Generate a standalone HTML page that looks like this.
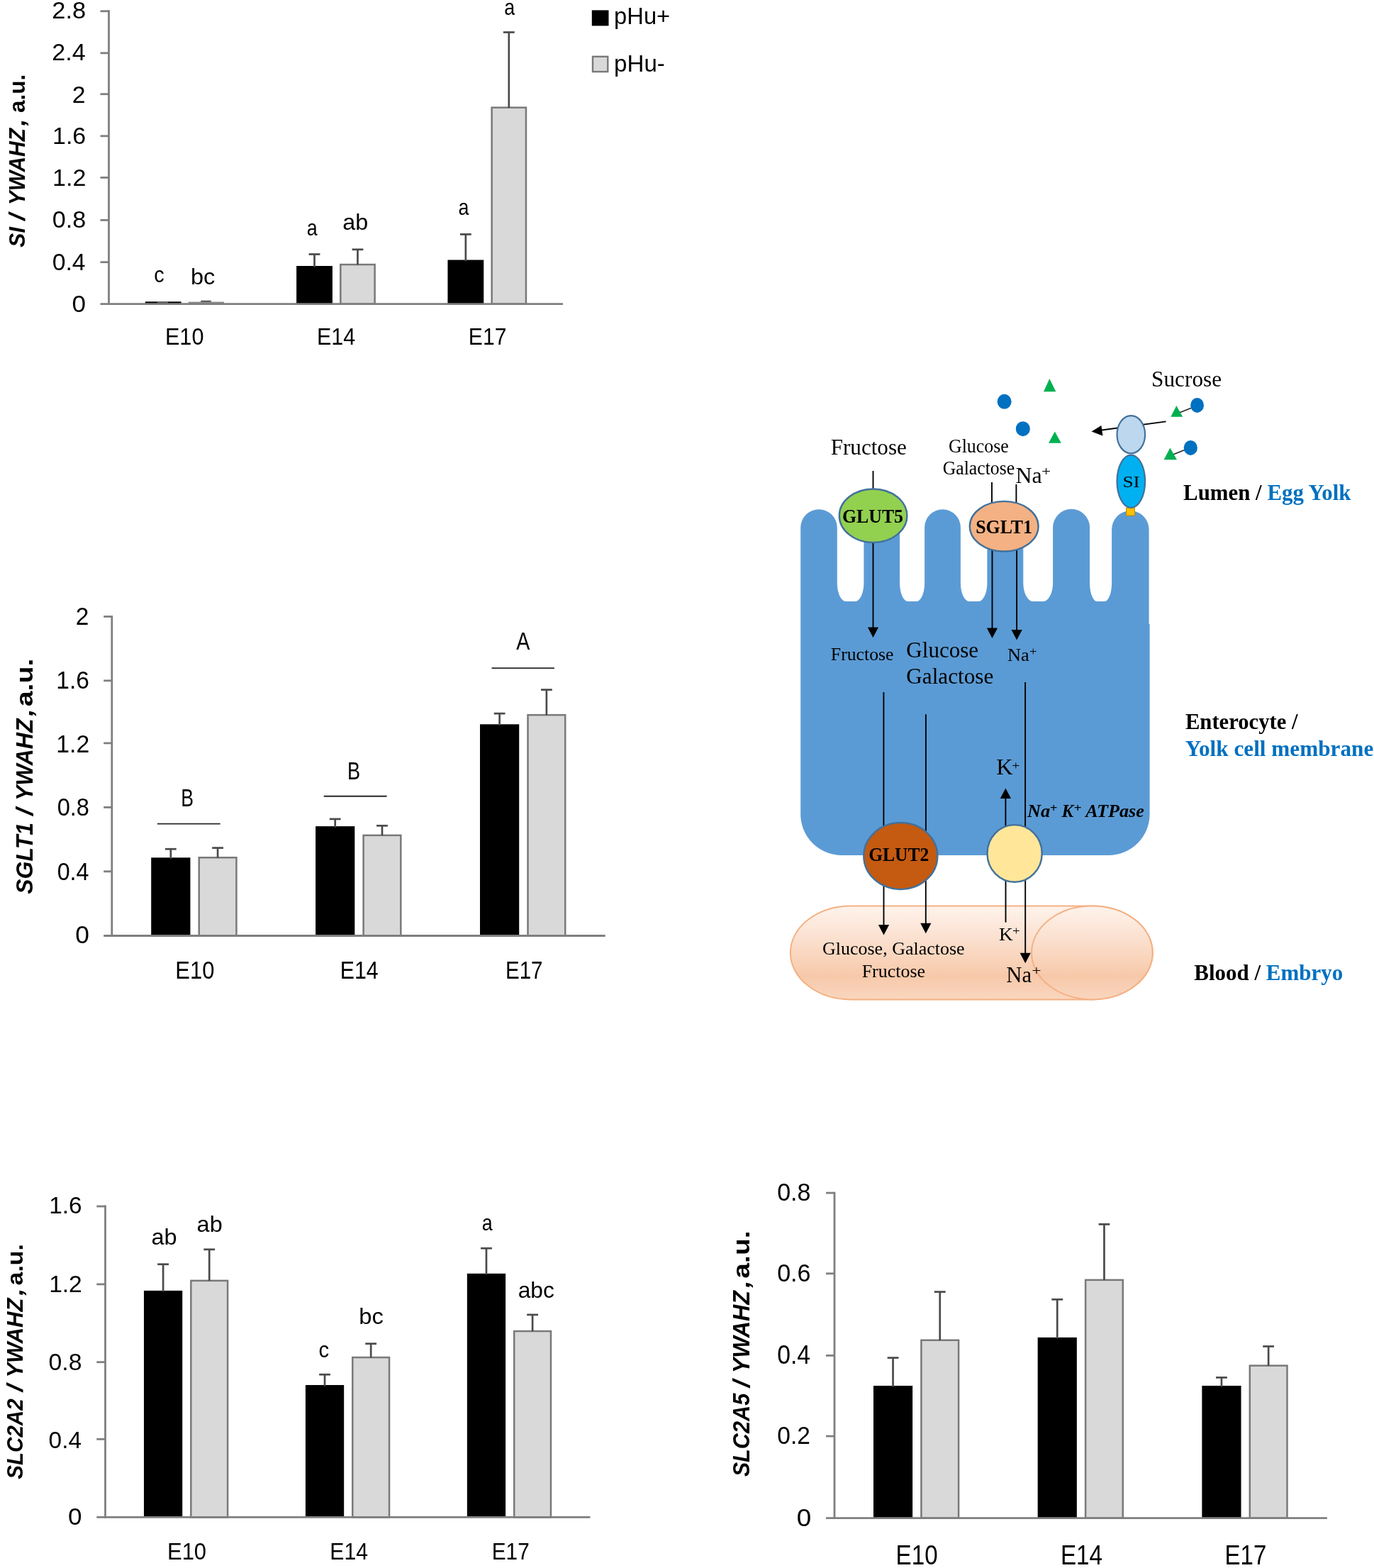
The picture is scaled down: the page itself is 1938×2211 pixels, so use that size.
<!DOCTYPE html>
<html lang="en"><head><meta charset="utf-8"><title>Figure</title>
<style>
html,body{margin:0;padding:0;background:#fff}
body{width:1938px;height:2211px;overflow:hidden}
svg{display:block}
text{white-space:pre}
.sa{font-family:"Liberation Sans",sans-serif;font-weight:normal;font-style:normal}
.sab{font-family:"Liberation Sans",sans-serif;font-weight:bold;font-style:normal}
.sabi{font-family:"Liberation Sans",sans-serif;font-weight:bold;font-style:italic}
.se{font-family:"Liberation Serif",serif;font-weight:normal;font-style:normal}
.seb{font-family:"Liberation Serif",serif;font-weight:bold;font-style:normal}
.sebi{font-family:"Liberation Serif",serif;font-weight:bold;font-style:italic}
</style></head><body>
<svg width="1938" height="2211" viewBox="0 0 1938 2211">
<defs>
<linearGradient id="vg" x1="0" y1="0" x2="0" y2="1">
<stop offset="0" stop-color="#fef3ec"/><stop offset="0.35" stop-color="#fbe0cf"/><stop offset="0.75" stop-color="#f7c9aa"/><stop offset="1" stop-color="#f9d6bf"/>
</linearGradient>
</defs>
<rect width="1938" height="2211" fill="#fff"/>
<g id="chart-si">
<rect x="204.79" y="425.30" width="50.79" height="3.40" fill="#000"/>
<line x1="221.80" y1="426.40" x2="237.00" y2="426.40" stroke="#6b6b6b" stroke-width="2"/>
<rect x="265.75" y="425.60" width="50.19" height="3.10" fill="#8a8a8a"/>
<line x1="283.20" y1="424.80" x2="297.80" y2="424.80" stroke="#5a5a5a" stroke-width="2.2"/>
<rect x="418.13" y="375.00" width="50.79" height="53.70" fill="#000"/>
<line x1="443.52" y1="358.50" x2="443.52" y2="376.50" stroke="#4a4a4a" stroke-width="2.7"/>
<line x1="435.62" y1="358.50" x2="451.42" y2="358.50" stroke="#4a4a4a" stroke-width="2.7"/>
<rect x="480.33" y="373.05" width="48.29" height="55.65" fill="#d9d9d9" stroke="#797979" stroke-width="2.5"/>
<line x1="504.48" y1="351.80" x2="504.48" y2="373.30" stroke="#4a4a4a" stroke-width="2.7"/>
<line x1="496.58" y1="351.80" x2="512.38" y2="351.80" stroke="#4a4a4a" stroke-width="2.7"/>
<rect x="631.46" y="366.50" width="50.79" height="62.20" fill="#000"/>
<line x1="656.86" y1="330.40" x2="656.86" y2="368.00" stroke="#4a4a4a" stroke-width="2.7"/>
<line x1="648.96" y1="330.40" x2="664.76" y2="330.40" stroke="#4a4a4a" stroke-width="2.7"/>
<rect x="693.66" y="151.65" width="48.29" height="277.05" fill="#d9d9d9" stroke="#797979" stroke-width="2.5"/>
<line x1="717.81" y1="45.50" x2="717.81" y2="151.90" stroke="#4a4a4a" stroke-width="2.7"/>
<line x1="709.91" y1="45.50" x2="725.71" y2="45.50" stroke="#4a4a4a" stroke-width="2.7"/>
<line x1="153.50" y1="14.36" x2="153.50" y2="430.10" stroke="#7f7f7f" stroke-width="2.8"/>
<line x1="141.50" y1="428.70" x2="794.00" y2="428.70" stroke="#7f7f7f" stroke-width="2.8"/>
<text class="sa" font-size="33.5" transform="translate(101.53,439.80) scale(1.0490,1)">0</text>
<line x1="141.50" y1="369.65" x2="153.50" y2="369.65" stroke="#7f7f7f" stroke-width="2.8"/>
<text class="sa" font-size="33.5" transform="translate(73.68,380.50) scale(1.0095,1)">0.4</text>
<line x1="141.50" y1="310.40" x2="153.50" y2="310.40" stroke="#7f7f7f" stroke-width="2.8"/>
<text class="sa" font-size="33.5" transform="translate(73.66,321.30) scale(1.0204,1)">0.8</text>
<line x1="141.50" y1="250.40" x2="153.50" y2="250.40" stroke="#7f7f7f" stroke-width="2.8"/>
<text class="sa" font-size="33.5" transform="translate(74.00,262.30) scale(1.0181,1)">1.2</text>
<line x1="141.50" y1="191.80" x2="153.50" y2="191.80" stroke="#7f7f7f" stroke-width="2.8"/>
<text class="sa" font-size="33.5" transform="translate(74.02,203.40) scale(1.0130,1)">1.6</text>
<line x1="141.50" y1="132.70" x2="153.50" y2="132.70" stroke="#7f7f7f" stroke-width="2.8"/>
<text class="sa" font-size="33.5" transform="translate(101.70,144.50) scale(1.0090,1)">2</text>
<line x1="141.50" y1="74.80" x2="153.50" y2="74.80" stroke="#7f7f7f" stroke-width="2.8"/>
<text class="sa" font-size="33.5" transform="translate(73.28,85.30) scale(1.0181,1)">2.4</text>
<line x1="141.50" y1="15.76" x2="153.50" y2="15.76" stroke="#7f7f7f" stroke-width="2.8"/>
<text class="sa" font-size="33.5" transform="translate(73.27,25.95) scale(1.0292,1)">2.8</text>
<text class="sa" font-size="33.5" transform="translate(232.88,486.30) scale(0.9163,1)">E10</text>
<text class="sa" font-size="33.5" transform="translate(446.90,486.30) scale(0.9109,1)">E14</text>
<text class="sa" font-size="33.5" transform="translate(660.83,486.30) scale(0.8990,1)">E17</text>
<text class="sa" font-size="32" transform="translate(217.18,397.70) scale(0.8988,1)">c</text>
<text class="sa" font-size="32" transform="translate(268.90,401.20) scale(1.0165,1)">bc</text>
<text class="sa" font-size="32" transform="translate(432.86,332.20) scale(0.8395,1)">a</text>
<text class="sa" font-size="32" transform="translate(483.23,324.20) scale(1.0094,1)">ab</text>
<text class="sa" font-size="32" transform="translate(646.46,303.30) scale(0.8395,1)">a</text>
<text class="sa" font-size="32" transform="translate(711.26,20.50) scale(0.8395,1)">a</text>
<rect x="834.80" y="14.40" width="23.70" height="22.00" fill="#000"/>
<rect x="836.00" y="79.80" width="21.30" height="21.30" fill="#d9d9d9" stroke="#797979" stroke-width="2.4"/>
<text class="sa" font-size="32.6" transform="translate(866.09,34.40) scale(1.0035,1)">pHu+</text>
<text class="sa" font-size="32.6" transform="translate(866.06,100.50) scale(1.0162,1)">pHu-</text>
<text class="sabi" font-size="31.8" transform="translate(35.40,348.67) rotate(-90) scale(0.9503,1)">SI</text>
<text class="sabi" font-size="31.8" transform="translate(35.40,311.07) rotate(-90) scale(1.1241,1)">/</text>
<text class="sabi" font-size="31.8" transform="translate(35.40,289.22) rotate(-90) scale(0.9430,1)">YWAHZ</text>
<text class="sabi" font-size="31.8" transform="translate(35.40,177.45) rotate(-90) scale(1.1199,1)">,</text>
<text class="sab" font-size="31.8" transform="translate(35.40,158.92) rotate(-90) scale(0.9891,1)">a.u.</text>
</g>
<g id="chart-sglt1">
<rect x="213.21" y="1209.30" width="55.21" height="110.20" fill="#000"/>
<line x1="240.82" y1="1197.20" x2="240.82" y2="1210.80" stroke="#4a4a4a" stroke-width="2.7"/>
<line x1="232.92" y1="1197.20" x2="248.72" y2="1197.20" stroke="#4a4a4a" stroke-width="2.7"/>
<rect x="280.72" y="1209.25" width="52.71" height="110.25" fill="#d9d9d9" stroke="#797979" stroke-width="2.5"/>
<line x1="307.08" y1="1195.60" x2="307.08" y2="1209.50" stroke="#4a4a4a" stroke-width="2.7"/>
<line x1="299.18" y1="1195.60" x2="314.98" y2="1195.60" stroke="#4a4a4a" stroke-width="2.7"/>
<rect x="445.11" y="1165.10" width="55.21" height="154.40" fill="#000"/>
<line x1="472.72" y1="1154.90" x2="472.72" y2="1166.60" stroke="#4a4a4a" stroke-width="2.7"/>
<line x1="464.82" y1="1154.90" x2="480.62" y2="1154.90" stroke="#4a4a4a" stroke-width="2.7"/>
<rect x="512.62" y="1177.85" width="52.71" height="141.65" fill="#d9d9d9" stroke="#797979" stroke-width="2.5"/>
<line x1="538.98" y1="1164.30" x2="538.98" y2="1178.10" stroke="#4a4a4a" stroke-width="2.7"/>
<line x1="531.08" y1="1164.30" x2="546.88" y2="1164.30" stroke="#4a4a4a" stroke-width="2.7"/>
<rect x="677.01" y="1021.30" width="55.21" height="298.20" fill="#000"/>
<line x1="704.62" y1="1006.10" x2="704.62" y2="1022.80" stroke="#4a4a4a" stroke-width="2.7"/>
<line x1="696.72" y1="1006.10" x2="712.52" y2="1006.10" stroke="#4a4a4a" stroke-width="2.7"/>
<rect x="744.52" y="1008.15" width="52.71" height="311.35" fill="#d9d9d9" stroke="#797979" stroke-width="2.5"/>
<line x1="770.88" y1="972.60" x2="770.88" y2="1008.40" stroke="#4a4a4a" stroke-width="2.7"/>
<line x1="762.98" y1="972.60" x2="778.78" y2="972.60" stroke="#4a4a4a" stroke-width="2.7"/>
<line x1="157.80" y1="868.00" x2="157.80" y2="1320.90" stroke="#7f7f7f" stroke-width="2.8"/>
<line x1="146.20" y1="1319.50" x2="853.70" y2="1319.50" stroke="#7f7f7f" stroke-width="2.8"/>
<text class="sa" font-size="35" transform="translate(106.22,1330.40) scale(1.0101,1)">0</text>
<line x1="146.20" y1="1228.80" x2="157.80" y2="1228.80" stroke="#7f7f7f" stroke-width="2.8"/>
<text class="sa" font-size="35" transform="translate(80.64,1240.60) scale(0.9208,1)">0.4</text>
<line x1="146.20" y1="1138.40" x2="157.80" y2="1138.40" stroke="#7f7f7f" stroke-width="2.8"/>
<text class="sa" font-size="35" transform="translate(80.63,1150.40) scale(0.9308,1)">0.8</text>
<line x1="146.20" y1="1047.90" x2="157.80" y2="1047.90" stroke="#7f7f7f" stroke-width="2.8"/>
<text class="sa" font-size="35" transform="translate(79.33,1061.40) scale(0.9631,1)">1.2</text>
<line x1="146.20" y1="959.80" x2="157.80" y2="959.80" stroke="#7f7f7f" stroke-width="2.8"/>
<text class="sa" font-size="35" transform="translate(79.35,971.40) scale(0.9583,1)">1.6</text>
<line x1="146.20" y1="869.40" x2="157.80" y2="869.40" stroke="#7f7f7f" stroke-width="2.8"/>
<text class="sa" font-size="35" transform="translate(106.72,881.00) scale(0.9532,1)">2</text>
<text class="sa" font-size="35" transform="translate(247.36,1380.40) scale(0.8839,1)">E10</text>
<text class="sa" font-size="35" transform="translate(479.71,1380.40) scale(0.8667,1)">E14</text>
<text class="sa" font-size="35" transform="translate(712.98,1380.40) scale(0.8431,1)">E17</text>
<text class="sa" font-size="35" transform="translate(255.21,1137.30) scale(0.7623,1)">B</text>
<line x1="221.80" y1="1161.60" x2="310.70" y2="1161.60" stroke="#262626" stroke-width="1.9"/>
<text class="sa" font-size="35" transform="translate(489.98,1098.60) scale(0.7730,1)">B</text>
<line x1="456.70" y1="1122.80" x2="545.60" y2="1122.80" stroke="#262626" stroke-width="1.9"/>
<text class="sa" font-size="35" transform="translate(728.14,916.00) scale(0.8187,1)">A</text>
<line x1="693.50" y1="942.10" x2="781.90" y2="942.10" stroke="#262626" stroke-width="1.9"/>
<text class="sabi" font-size="33" transform="translate(45.50,1260.79) rotate(-90) scale(0.9712,1)">SGLT1</text>
<text class="sabi" font-size="33" transform="translate(45.50,1150.02) rotate(-90) scale(1.1283,1)">/</text>
<text class="sabi" font-size="33" transform="translate(45.50,1128.99) rotate(-90) scale(0.9692,1)">YWAHZ</text>
<text class="sabi" font-size="33" transform="translate(45.50,1009.64) rotate(-90) scale(1.1092,1)">,</text>
<text class="sab" font-size="33" transform="translate(45.50,996.25) rotate(-90) scale(1.1919,1)">a.u.</text>
</g>
<g id="chart-slc2a2">
<rect x="202.97" y="1819.90" width="54.27" height="319.55" fill="#000"/>
<line x1="230.10" y1="1782.70" x2="230.10" y2="1821.40" stroke="#4a4a4a" stroke-width="2.7"/>
<line x1="222.20" y1="1782.70" x2="238.00" y2="1782.70" stroke="#4a4a4a" stroke-width="2.7"/>
<rect x="269.34" y="1805.85" width="51.77" height="333.60" fill="#d9d9d9" stroke="#797979" stroke-width="2.5"/>
<line x1="295.23" y1="1761.80" x2="295.23" y2="1806.10" stroke="#4a4a4a" stroke-width="2.7"/>
<line x1="287.33" y1="1761.80" x2="303.13" y2="1761.80" stroke="#4a4a4a" stroke-width="2.7"/>
<rect x="430.90" y="1953.00" width="54.27" height="186.45" fill="#000"/>
<line x1="458.04" y1="1938.20" x2="458.04" y2="1954.50" stroke="#4a4a4a" stroke-width="2.7"/>
<line x1="450.14" y1="1938.20" x2="465.94" y2="1938.20" stroke="#4a4a4a" stroke-width="2.7"/>
<rect x="497.28" y="1914.05" width="51.77" height="225.40" fill="#d9d9d9" stroke="#797979" stroke-width="2.5"/>
<line x1="523.16" y1="1894.70" x2="523.16" y2="1914.30" stroke="#4a4a4a" stroke-width="2.7"/>
<line x1="515.26" y1="1894.70" x2="531.06" y2="1894.70" stroke="#4a4a4a" stroke-width="2.7"/>
<rect x="658.84" y="1795.80" width="54.27" height="343.65" fill="#000"/>
<line x1="685.97" y1="1760.20" x2="685.97" y2="1797.30" stroke="#4a4a4a" stroke-width="2.7"/>
<line x1="678.07" y1="1760.20" x2="693.87" y2="1760.20" stroke="#4a4a4a" stroke-width="2.7"/>
<rect x="725.21" y="1877.05" width="51.77" height="262.40" fill="#d9d9d9" stroke="#797979" stroke-width="2.5"/>
<line x1="751.10" y1="1853.90" x2="751.10" y2="1877.30" stroke="#4a4a4a" stroke-width="2.7"/>
<line x1="743.20" y1="1853.90" x2="759.00" y2="1853.90" stroke="#4a4a4a" stroke-width="2.7"/>
<line x1="148.50" y1="1699.60" x2="148.50" y2="2140.85" stroke="#7f7f7f" stroke-width="2.8"/>
<line x1="136.30" y1="2139.45" x2="832.50" y2="2139.45" stroke="#7f7f7f" stroke-width="2.8"/>
<text class="sa" font-size="33.5" transform="translate(95.93,2150.20) scale(1.0490,1)">0</text>
<line x1="136.30" y1="2029.34" x2="148.50" y2="2029.34" stroke="#7f7f7f" stroke-width="2.8"/>
<text class="sa" font-size="33.5" transform="translate(68.59,2041.90) scale(0.9982,1)">0.4</text>
<line x1="136.30" y1="1920.70" x2="148.50" y2="1920.70" stroke="#7f7f7f" stroke-width="2.8"/>
<text class="sa" font-size="33.5" transform="translate(68.58,1931.80) scale(1.0090,1)">0.8</text>
<line x1="136.30" y1="1810.90" x2="148.50" y2="1810.90" stroke="#7f7f7f" stroke-width="2.8"/>
<text class="sa" font-size="33.5" transform="translate(69.14,1821.80) scale(1.0015,1)">1.2</text>
<line x1="136.30" y1="1701.00" x2="148.50" y2="1701.00" stroke="#7f7f7f" stroke-width="2.8"/>
<text class="sa" font-size="33.5" transform="translate(69.16,1710.90) scale(0.9965,1)">1.6</text>
<text class="sa" font-size="33.5" transform="translate(235.96,2199.20) scale(0.9253,1)">E10</text>
<text class="sa" font-size="33.5" transform="translate(465.32,2199.20) scale(0.9020,1)">E14</text>
<text class="sa" font-size="33.5" transform="translate(693.76,2199.20) scale(0.8881,1)">E17</text>
<text class="sa" font-size="32" transform="translate(213.42,1754.70) scale(1.0154,1)">ab</text>
<text class="sa" font-size="32" transform="translate(277.62,1737.30) scale(1.0154,1)">ab</text>
<text class="sa" font-size="32" transform="translate(449.56,1913.50) scale(0.9133,1)">c</text>
<text class="sa" font-size="32" transform="translate(506.29,1866.70) scale(1.0229,1)">bc</text>
<text class="sa" font-size="32" transform="translate(679.86,1735.40) scale(0.8395,1)">a</text>
<text class="sa" font-size="32" transform="translate(730.65,1830.00) scale(0.9921,1)">abc</text>
<text class="sabi" font-size="31.8" transform="translate(31.50,2085.76) rotate(-90) scale(0.9305,1)">SLC2A2</text>
<text class="sabi" font-size="31.8" transform="translate(31.50,1962.42) rotate(-90) scale(1.1709,1)">/</text>
<text class="sabi" font-size="31.8" transform="translate(31.50,1942.61) rotate(-90) scale(0.9766,1)">YWAHZ</text>
<text class="sabi" font-size="31.8" transform="translate(31.50,1826.64) rotate(-90) scale(1.1510,1)">,</text>
<text class="sab" font-size="31.8" transform="translate(31.50,1812.39) rotate(-90) scale(1.0646,1)">a.u.</text>
</g>
<g id="chart-slc2a5">
<rect x="1231.97" y="1954.00" width="55.17" height="186.70" fill="#000"/>
<line x1="1259.55" y1="1914.60" x2="1259.55" y2="1955.50" stroke="#4a4a4a" stroke-width="2.7"/>
<line x1="1251.65" y1="1914.60" x2="1267.45" y2="1914.60" stroke="#4a4a4a" stroke-width="2.7"/>
<rect x="1299.42" y="1889.75" width="52.67" height="250.95" fill="#d9d9d9" stroke="#797979" stroke-width="2.5"/>
<line x1="1325.75" y1="1821.60" x2="1325.75" y2="1890.00" stroke="#4a4a4a" stroke-width="2.7"/>
<line x1="1317.85" y1="1821.60" x2="1333.65" y2="1821.60" stroke="#4a4a4a" stroke-width="2.7"/>
<rect x="1463.67" y="1885.90" width="55.17" height="254.80" fill="#000"/>
<line x1="1491.25" y1="1832.30" x2="1491.25" y2="1887.40" stroke="#4a4a4a" stroke-width="2.7"/>
<line x1="1483.35" y1="1832.30" x2="1499.15" y2="1832.30" stroke="#4a4a4a" stroke-width="2.7"/>
<rect x="1531.12" y="1804.85" width="52.67" height="335.85" fill="#d9d9d9" stroke="#797979" stroke-width="2.5"/>
<line x1="1557.45" y1="1726.30" x2="1557.45" y2="1805.10" stroke="#4a4a4a" stroke-width="2.7"/>
<line x1="1549.55" y1="1726.30" x2="1565.35" y2="1726.30" stroke="#4a4a4a" stroke-width="2.7"/>
<rect x="1695.37" y="1954.00" width="55.17" height="186.70" fill="#000"/>
<line x1="1722.95" y1="1942.40" x2="1722.95" y2="1955.50" stroke="#4a4a4a" stroke-width="2.7"/>
<line x1="1715.05" y1="1942.40" x2="1730.85" y2="1942.40" stroke="#4a4a4a" stroke-width="2.7"/>
<rect x="1762.82" y="1925.65" width="52.67" height="215.05" fill="#d9d9d9" stroke="#797979" stroke-width="2.5"/>
<line x1="1789.15" y1="1898.50" x2="1789.15" y2="1925.90" stroke="#4a4a4a" stroke-width="2.7"/>
<line x1="1781.25" y1="1898.50" x2="1797.05" y2="1898.50" stroke="#4a4a4a" stroke-width="2.7"/>
<line x1="1177.00" y1="1680.70" x2="1177.00" y2="2142.10" stroke="#7f7f7f" stroke-width="2.8"/>
<line x1="1165.00" y1="2140.70" x2="1871.90" y2="2140.70" stroke="#7f7f7f" stroke-width="2.8"/>
<text class="sa" font-size="36" transform="translate(1123.66,2152.00) scale(1.0227,1)">0</text>
<line x1="1165.00" y1="2025.10" x2="1177.00" y2="2025.10" stroke="#7f7f7f" stroke-width="2.8"/>
<text class="sa" font-size="36" transform="translate(1096.29,2036.00) scale(0.9289,1)">0.2</text>
<line x1="1165.00" y1="1911.40" x2="1177.00" y2="1911.40" stroke="#7f7f7f" stroke-width="2.8"/>
<text class="sa" font-size="36" transform="translate(1096.18,1923.00) scale(0.9351,1)">0.4</text>
<line x1="1165.00" y1="1795.80" x2="1177.00" y2="1795.80" stroke="#7f7f7f" stroke-width="2.8"/>
<text class="sa" font-size="36" transform="translate(1096.17,1807.20) scale(0.9456,1)">0.6</text>
<line x1="1165.00" y1="1682.10" x2="1177.00" y2="1682.10" stroke="#7f7f7f" stroke-width="2.8"/>
<text class="sa" font-size="36" transform="translate(1096.17,1692.90) scale(0.9453,1)">0.8</text>
<text class="sa" font-size="38" transform="translate(1263.58,2206.00) scale(0.8728,1)">E10</text>
<text class="sa" font-size="38" transform="translate(1495.88,2206.00) scale(0.8740,1)">E14</text>
<text class="sa" font-size="38" transform="translate(1727.59,2206.00) scale(0.8692,1)">E17</text>
<text class="sabi" font-size="33" transform="translate(1057.40,2082.37) rotate(-90) scale(0.9295,1)">SLC2A5</text>
<text class="sabi" font-size="33" transform="translate(1057.40,1956.52) rotate(-90) scale(1.1283,1)">/</text>
<text class="sabi" font-size="33" transform="translate(1057.40,1936.30) rotate(-90) scale(0.9760,1)">YWAHZ</text>
<text class="sabi" font-size="33" transform="translate(1057.40,1815.84) rotate(-90) scale(1.1092,1)">,</text>
<text class="sab" font-size="33" transform="translate(1057.40,1802.64) rotate(-90) scale(1.1826,1)">a.u.</text>
</g>
<g id="diagram">
<path d="M1129.2,1148.0 L1129.2,744.1 A25.80,25.80 0 0 1 1180.8,744.1 L1180.8,822.6 A12.78,25.50 0 0 0 1193.6,848.1 L1205.6,848.1 A12.78,25.50 0 0 0 1218.4,822.6 L1218.4,743.6 A25.35,25.35 0 0 1 1269.1,743.6 L1269.1,822.6 A11.90,25.50 0 0 0 1281.0,848.1 L1292.2,848.1 A11.90,25.50 0 0 0 1304.1,822.6 L1304.1,743.7 A25.40,25.40 0 0 1 1354.9,743.7 L1354.9,822.6 A12.75,25.50 0 0 0 1367.7,848.1 L1379.7,848.1 A12.75,25.50 0 0 0 1392.4,822.6 L1392.4,743.7 A25.45,25.45 0 0 1 1443.3,743.7 L1443.3,822.6 A14.21,25.50 0 0 0 1457.5,848.1 L1470.9,848.1 A14.21,25.50 0 0 0 1485.1,822.6 L1485.1,743.8 A26.00,26.00 0 0 1 1537.1,743.8 L1537.1,822.6 A10.54,25.50 0 0 0 1547.6,848.1 L1557.6,848.1 A10.54,25.50 0 0 0 1568.1,822.6 L1568.1,746.6 A26.25,26.25 0 0 1 1620.6,746.6 L1620.6,880 L1621.6,880 L1621.6,1148.0 A58,58 0 0 1 1563.6,1206.0 L1187.2,1206.0 A58,58 0 0 1 1129.2,1148.0 Z" fill="#5b9bd5"/>
<path d="M1200.2,1277.4 L1540.4,1277.4 A85.4,66 0 0 1 1540.4,1409.4 L1200.2,1409.4 A85.4,66 0 0 1 1200.2,1277.4 Z" fill="url(#vg)" stroke="#f4b183" stroke-width="2"/>
<ellipse cx="1540.4" cy="1343.4" rx="85.4" ry="66" fill="url(#vg)" stroke="#f4b183" stroke-width="2"/>
<line x1="1231.50" y1="664.00" x2="1231.50" y2="690.00" stroke="#000" stroke-width="1.9"/>
<line x1="1399.00" y1="679.90" x2="1399.00" y2="709.00" stroke="#000" stroke-width="1.9"/>
<line x1="1433.40" y1="683.00" x2="1433.40" y2="709.00" stroke="#000" stroke-width="1.9"/>
<line x1="1231.50" y1="765.00" x2="1231.50" y2="885.50" stroke="#000" stroke-width="1.9"/>
<polygon points="1223.90,884.50 1239.10,884.50 1231.50,899.00" fill="#000"/>
<line x1="1399.50" y1="776.00" x2="1399.50" y2="886.50" stroke="#000" stroke-width="1.9"/>
<polygon points="1391.90,885.50 1407.10,885.50 1399.50,900.00" fill="#000"/>
<line x1="1434.10" y1="776.00" x2="1434.10" y2="888.90" stroke="#000" stroke-width="1.9"/>
<polygon points="1426.50,887.90 1441.70,887.90 1434.10,902.40" fill="#000"/>
<line x1="1246.40" y1="976.10" x2="1246.40" y2="1170.00" stroke="#000" stroke-width="1.9"/>
<line x1="1305.90" y1="1007.30" x2="1305.90" y2="1180.00" stroke="#000" stroke-width="1.9"/>
<line x1="1446.10" y1="962.00" x2="1446.10" y2="1170.00" stroke="#000" stroke-width="1.9"/>
<line x1="1246.50" y1="1245.00" x2="1246.50" y2="1304.90" stroke="#000" stroke-width="1.9"/>
<polygon points="1238.90,1303.90 1254.10,1303.90 1246.50,1318.40" fill="#000"/>
<line x1="1305.80" y1="1240.00" x2="1305.80" y2="1302.80" stroke="#000" stroke-width="1.9"/>
<polygon points="1298.20,1301.80 1313.40,1301.80 1305.80,1316.30" fill="#000"/>
<line x1="1418.40" y1="1166.00" x2="1418.40" y2="1125.10" stroke="#000" stroke-width="1.9"/>
<polygon points="1410.80,1126.10 1426.00,1126.10 1418.40,1111.60" fill="#000"/>
<line x1="1418.50" y1="1240.00" x2="1418.50" y2="1300.60" stroke="#000" stroke-width="1.9"/>
<line x1="1446.20" y1="1240.00" x2="1446.20" y2="1344.80" stroke="#000" stroke-width="1.9"/>
<polygon points="1438.60,1343.80 1453.80,1343.80 1446.20,1358.30" fill="#000"/>
<line x1="1644.60" y1="594.40" x2="1552.00" y2="606.80" stroke="#000" stroke-width="1.9"/>
<polygon points="1539.60,608.40 1553.40,600.00 1555.40,614.40" fill="#000"/>
<ellipse cx="1231.60" cy="727.20" rx="47.80" ry="37.70" fill="#92d050" stroke="#41719c" stroke-width="2.4"/>
<ellipse cx="1416.20" cy="742.20" rx="48.40" ry="35.30" fill="#f4b183" stroke="#41719c" stroke-width="2.4"/>
<ellipse cx="1270.30" cy="1207.00" rx="52.00" ry="47.00" fill="#c55a11" stroke="#41719c" stroke-width="2.4"/>
<ellipse cx="1431.10" cy="1203.40" rx="38.60" ry="40.30" fill="#ffe699" stroke="#41719c" stroke-width="2.4"/>
<rect x="1588.60" y="716.20" width="11.80" height="10.80" fill="#ffc000" stroke="#bf9000" stroke-width="1.2"/>
<ellipse cx="1595.30" cy="678.80" rx="19.80" ry="37.10" fill="#00b0f0" stroke="#41719c" stroke-width="2.2"/>
<ellipse cx="1595.30" cy="612.70" rx="19.80" ry="26.60" fill="#bdd7ee" stroke="#41719c" stroke-width="2.2"/>
<ellipse cx="1416.60" cy="566.30" rx="10.00" ry="10.50" fill="#0070c0"/>
<ellipse cx="1442.80" cy="604.70" rx="10.00" ry="10.50" fill="#0070c0"/>
<polygon points="1480.30,534.10 1472.00,552.20 1489.30,552.20" fill="#00b050"/>
<polygon points="1487.80,608.40 1479.00,624.80 1496.80,624.80" fill="#00b050"/>
<line x1="1662.00" y1="582.50" x2="1681.00" y2="575.00" stroke="#262626" stroke-width="1.5"/>
<polygon points="1659.30,572.10 1651.40,587.80 1668.20,587.80" fill="#00b050"/>
<ellipse cx="1688.60" cy="571.40" rx="9.40" ry="10.50" fill="#0070c0"/>
<line x1="1652.00" y1="642.00" x2="1672.00" y2="634.00" stroke="#262626" stroke-width="1.5"/>
<polygon points="1650.40,631.40 1641.60,648.30 1660.00,648.30" fill="#00b050"/>
<ellipse cx="1679.30" cy="631.40" rx="9.60" ry="10.50" fill="#0070c0"/>
<text class="se" font-size="32" transform="translate(1171.70,641.30) scale(0.9725,1)">Fructose</text>
<text class="se" font-size="27" transform="translate(1337.94,637.70) scale(0.9603,1)">Glucose</text>
<text class="se" font-size="27" transform="translate(1329.75,668.90) scale(0.9521,1)">Galactose</text>
<text class="se" font-size="31" transform="translate(1432.48,680.60) scale(1.0307,1)">Na</text>
<text class="se" font-size="19.6" transform="translate(1469.04,670.61) scale(1.1841,1)">+</text>
<text class="se" font-size="31" transform="translate(1624.11,544.70) scale(1.0084,1)">Sucrose</text>
<text class="se" font-size="24" transform="translate(1583.38,687.00) scale(1.1328,1)">SI</text>
<text class="seb" font-size="31" transform="translate(1669.07,705.40) scale(0.9959,1)"><tspan class="seb" font-size="31">Lumen / </tspan><tspan class="seb" font-size="31" fill="#0070c0">Egg Yolk</tspan></text>
<text class="seb" font-size="26.5" transform="translate(1187.94,737.20) scale(0.9746,1)">GLUT5</text>
<text class="seb" font-size="26.5" transform="translate(1376.22,751.50) scale(0.9779,1)">SGLT1</text>
<text class="se" font-size="25.5" transform="translate(1171.86,931.10) scale(1.0093,1)">Fructose</text>
<text class="se" font-size="31" transform="translate(1278.33,926.70) scale(1.0026,1)">Glucose</text>
<text class="se" font-size="31" transform="translate(1278.32,963.70) scale(1.0061,1)">Galactose</text>
<text class="se" font-size="25.5" transform="translate(1421.04,932.00) scale(1.0331,1)">Na</text>
<text class="se" font-size="16.2" transform="translate(1451.97,924.48) scale(1.1540,1)">+</text>
<text class="se" font-size="31" transform="translate(1405.27,1091.70) scale(1.0436,1)">K</text>
<text class="se" font-size="17.5" transform="translate(1427.22,1084.51) scale(1.1297,1)">+</text>
<text class="seb" font-size="31" transform="translate(1671.88,1028.40) scale(0.9900,1)">Enterocyte /</text>
<text class="seb" font-size="31" fill="#0070c0" transform="translate(1671.85,1065.90) scale(1.0080,1)">Yolk cell membrane</text>
<text class="sebi" font-size="25" transform="translate(1449.04,1152.00) scale(1.0534,1)">Na</text>
<text class="sebi" font-size="16" transform="translate(1480.87,1144.91) scale(1.1563,1)">+</text>
<text class="sebi" font-size="25" transform="translate(1497.58,1152.00) scale(0.9973,1)">K</text>
<text class="sebi" font-size="16" transform="translate(1514.42,1144.91) scale(1.2100,1)">+</text>
<text class="sebi" font-size="25" transform="translate(1531.15,1152.00) scale(1.0449,1)">ATPase</text>
<text class="seb" font-size="26.5" transform="translate(1225.15,1214.00) scale(0.9649,1)">GLUT2</text>
<text class="se" font-size="25.5" transform="translate(1409.01,1325.60) scale(1.0735,1)">K</text>
<text class="se" font-size="16.2" transform="translate(1427.96,1318.28) scale(1.1673,1)">+</text>
<text class="se" font-size="31" transform="translate(1419.32,1384.90) scale(0.9905,1)">Na</text>
<text class="se" font-size="19.6" transform="translate(1455.32,1374.91) scale(1.2060,1)">+</text>
<text class="se" font-size="25.5" transform="translate(1159.93,1346.10) scale(1.0199,1)">Glucose, Galactose</text>
<text class="se" font-size="25.5" transform="translate(1215.65,1377.70) scale(1.0185,1)">Fructose</text>
<text class="seb" font-size="31" transform="translate(1684.29,1382.40) scale(0.9993,1)"><tspan class="seb" font-size="31">Blood / </tspan><tspan class="seb" font-size="31" fill="#0070c0">Embryo</tspan></text>
</g>
</svg>
</body></html>
